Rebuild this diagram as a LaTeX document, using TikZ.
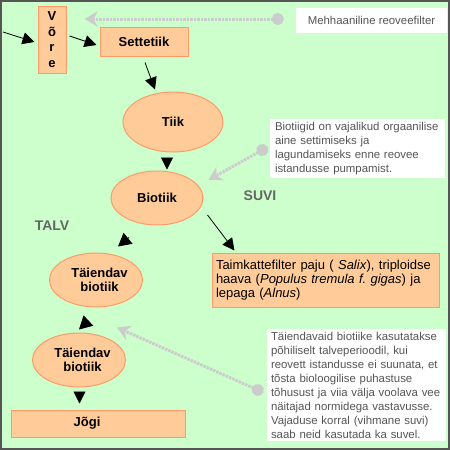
\documentclass[tikz,border=0pt]{standalone}
\usepackage{fontspec}
\setmainfont{Liberation Sans}
\usetikzlibrary{shapes.geometric,arrows.meta,positioning}
\definecolor{taust}{HTML}{CCFFCC}
\definecolor{kast}{HTML}{FFCC99}
\definecolor{serv}{HTML}{FF9966}
\definecolor{hall}{HTML}{CCCCCC}
\definecolor{tekst}{HTML}{555555}
\definecolor{raam}{HTML}{555555}
\frenchspacing
\tikzset{
  kastike/.style={draw=serv, fill=kast, line width=1pt, inner sep=0pt,
    font=\fontsize{13}{14}\selectfont\bfseries},
  tiigike/.style={kastike, ellipse, align=center},
  info/.style={fill=white, text=tekst, inner xsep=5pt, inner ysep=0pt,
    font=\fontsize{11.4}{13.9}\selectfont, align=left},
  nool/.style={-{Triangle[length=12pt,width=12pt]}, black, line width=0.8pt},
  suurnool/.style={-{Triangle[length=13pt,width=14pt]}, black, line width=0.8pt},
  viide/.style={hall, line width=3pt, dash pattern=on 2.5pt off 1pt,
    {Circle[length=12pt]}-{Stealth[length=13pt,width=15pt,inset=4pt]}},
  hooaeg/.style={text=tekst!90, font=\fontsize{14}{16}\selectfont\bfseries}
}
\begin{document}
\begin{tikzpicture}[x=1pt,y=-1pt]
    % Taust ja raam
    \useasboundingbox (0,0) rectangle (450,450);
    \fill[taust] (0,0) rectangle (450,450);
    \draw[raam, line width=2pt] (1,1) rectangle (449,449);

    % Puhastusahel
    \node[kastike, minimum width=28pt, minimum height=67pt, align=center,
      font=\fontsize{13}{15.7}\selectfont\bfseries] (vore) at (52,39.5) {V\\õ\\r\\e};
    \node[kastike, minimum width=88pt, minimum height=29pt] (settetiik) at (144,41.5) {Settetiik};
    \node[tiigike, minimum width=100pt, minimum height=60pt] (tiik) at (173,122) {Tiik};
    \node[tiigike, minimum width=92pt, minimum height=54pt] (biotiik) at (157,198) {Biotiik};
    \node[tiigike, minimum width=93pt, minimum height=54pt] (taiendav1) at (96,280) {\hspace*{7pt}Täiendav\\\hspace*{7pt}biotiik};
    \node[tiigike, minimum width=93pt, minimum height=54pt] (taiendav2) at (79,360) {\hspace*{7pt}Täiendav\\\hspace*{7pt}biotiik};
    \node[kastike, minimum width=174pt, minimum height=27pt,
      label={[font=\fontsize{13}{14}\selectfont\bfseries, xshift=-11pt]center:Jõgi}] (jogi) at (98,423.5) {};
    \node[kastike, minimum height=54pt, inner xsep=4pt, text width=219pt, align=left,
      font=\fontsize{13}{14.2}\selectfont] (taim) at (325.5,280)
      {Taimkattefilter paju ( \textit{Salix}), triploidse\\
       haava (\textit{Populus tremula f. gigas}) ja\\
       lepaga (\textit{Alnus})};

    % Selgitused
    \node[info, minimum width=151pt, minimum height=25pt] (mehh) at (371.5,20.5) {Mehhaaniline reoveefilter};
    \node[info, text width=165pt, minimum height=59pt] (bioinfo) at (357.5,148.5)
      {Biotiigid on vajalikud orgaanilise\\
       aine settimiseks ja\\
       lagundamiseks enne reovee\\
       istandusse pumpamist.};
    \node[info, inner xsep=4pt, text width=171pt, minimum height=112pt,
      font=\fontsize{11.4}{14}\selectfont] (taieinfo) at (356.5,385)
      {Täiendavaid biotiike kasutatakse\\
       põhiliselt talveperioodil, kui\\
       reovett istandusse ei suunata, et\\
       tõsta bioloogilise puhastuse\\
       tõhusust ja viia välja voolava vee\\
       näitajad normidega vastavusse.\\
       Vajaduse korral (vihmane suvi)\\
       saab neid kasutada ka suvel.};

    \node[hooaeg] (suvi) at (260,196) {SUVI};
    \node[hooaeg] (talv) at (52,226) {TALV};

    % Voolusuunad
    \coordinate (sisse) at (3,32);
    \draw[nool] (sisse) -- ([shift={(-3,2.5)}]vore.west);
    \draw[nool] ([shift={(3,-3.5)}]vore.east) -- ([shift={(-3,3.5)}]settetiik.west);
    \draw[nool] ([shift={(1,6)}]settetiik.south) -- ([shift={(-18,-2)}]tiik.north);
    \draw[nool] ([shift={(-6,6)}]tiik.south) -- ([shift={(10,-1)}]biotiik.north);
    \draw[nool] ([shift={(4,17)}]biotiik.east) -- ([shift={(23,-2)}]taim.north west);
    \draw[suurnool] ([shift={(-28,12)}]biotiik.south) -- ([shift={(22,-6)}]taiendav1.north);
    \draw[suurnool] ([shift={(-8,13.5)}]taiendav1.south) -- ([shift={(0,-3)}]taiendav2.north);
    \draw[nool] ([shift={(0.5,5)}]taiendav2.south) -- ([shift={(-18.5,-6)}]jogi.north);

    % Viited selgitustele
    \draw[viide] ([shift={(-12,-1.5)}]mehh.west) -- ([shift={(18,-20.5)}]vore.east);
    \draw[viide] ([shift={(-2.2,-1.4)}]bioinfo.west) -- ([shift={(5,-18)}]biotiik.east);
    \draw[viide] ([shift={(-3.5,7.4)}]taieinfo.west) -- ([shift={(21,20)}]taiendav1.south);
\end{tikzpicture}
\end{document}
